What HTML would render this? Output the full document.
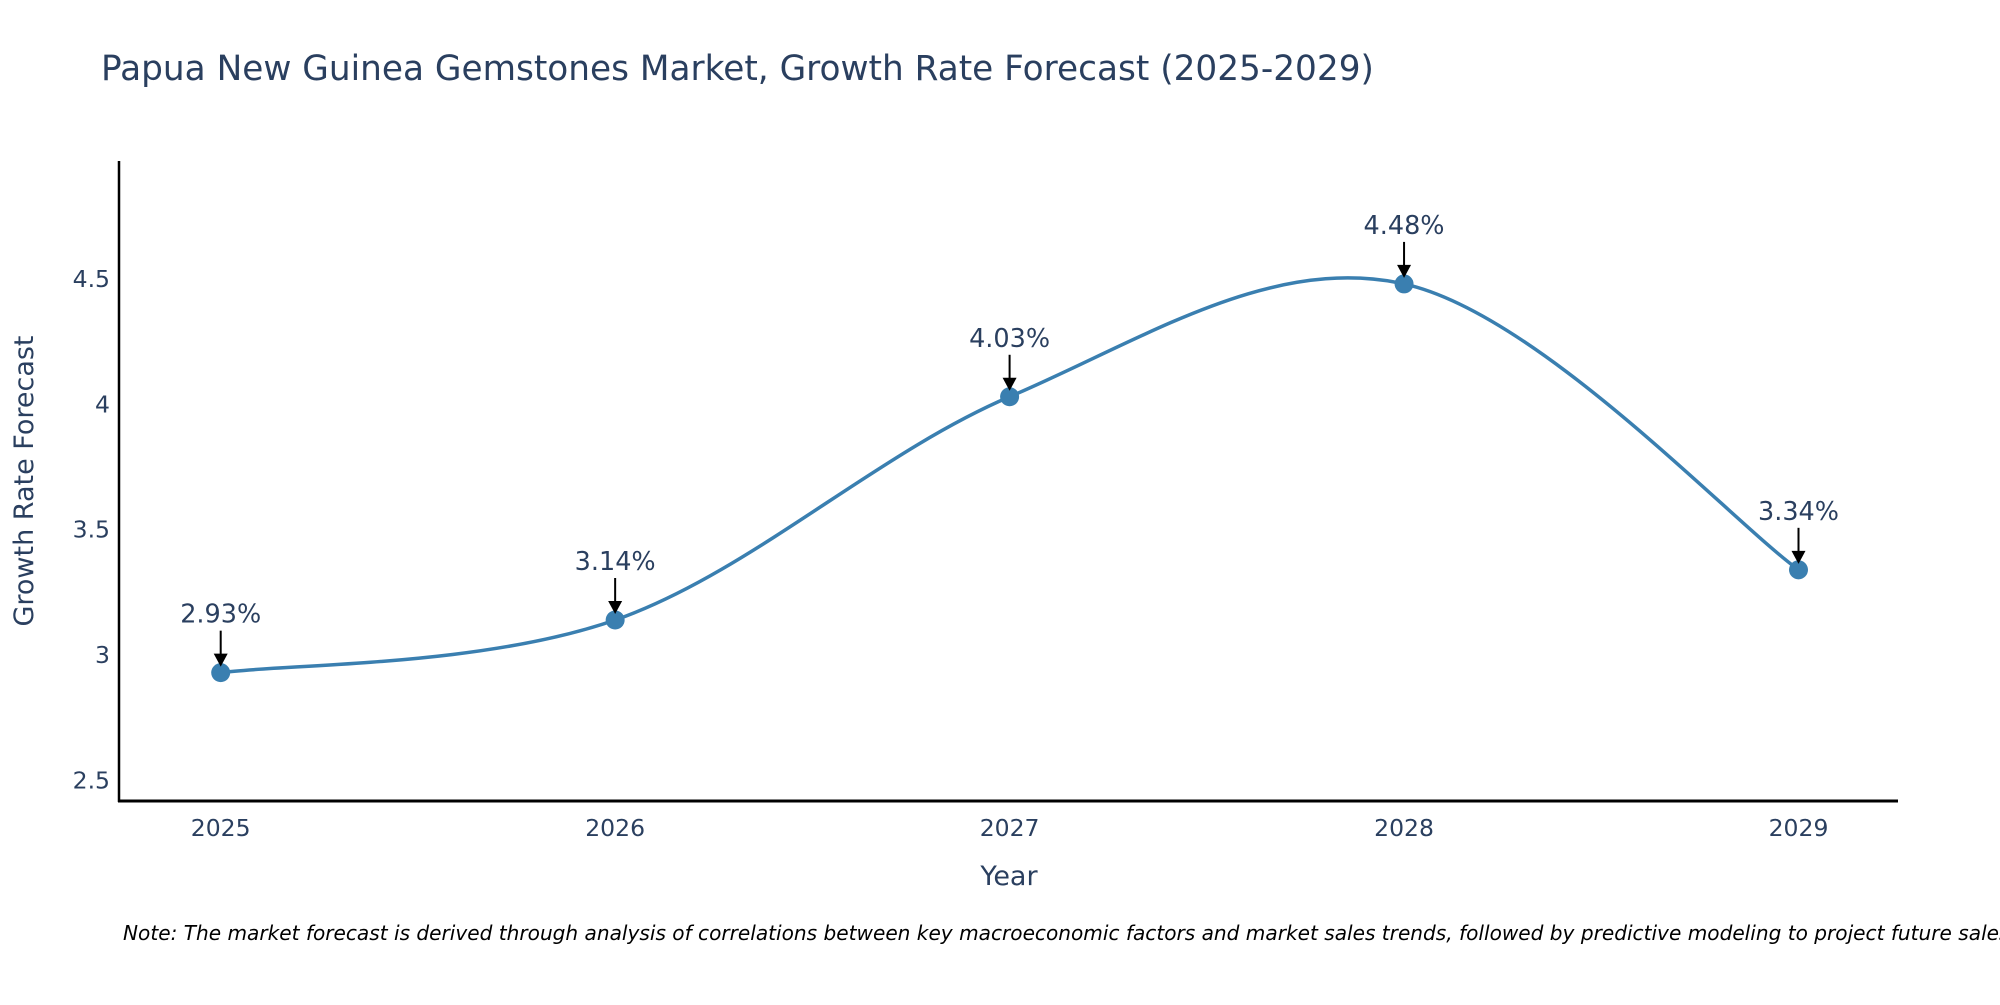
<!DOCTYPE html>
<html><head><meta charset="utf-8"><style>
body{margin:0;background:#fff;}
svg text{font-family:"DejaVu Sans","Liberation Sans",sans-serif;}
</style></head><body>
<svg width="2000" height="1000" viewBox="0 0 2000 1000">
<text x="101" y="80" font-size="34.3" fill="#2a3f5f">Papua New Guinea Gemstones Market, Growth Rate Forecast (2025-2029)</text>
<g id="yticks"></g>
<g id="xticks"></g>
<line x1="119" y1="161" x2="119" y2="802" stroke="#000" stroke-width="2.5"/>
<line x1="118" y1="801" x2="1898" y2="801" stroke="#000" stroke-width="3"/>
<path id="line" fill="none" stroke="#3a7fb0" stroke-width="3.5"/>
<g id="marks"></g>
<text transform="translate(33,481) rotate(-90)" text-anchor="middle" font-size="27" fill="#2a3f5f">Growth Rate Forecast</text>
<text x="1009" y="885" text-anchor="middle" font-size="27" fill="#2a3f5f">Year</text>
<text x="123" y="940" font-size="20.1" font-style="italic" fill="#000">Note: The market forecast is derived through analysis of correlations between key macroeconomic factors and market sales trends, followed by predictive modeling to project future sales</text>
</svg>
<script>
const years=["2025","2026","2027","2028","2029"];
const values=[2.93,3.14,4.03,4.48,3.34];
const labels=["2.93%","3.14%","4.03%","4.48%","3.34%"];
const yTicks=[2.5,3,3.5,4,4.5];
const yTickLabels=["2.5","3","3.5","4","4.5"];
const NS="http://www.w3.org/2000/svg";
function xs(i){return 220.7+i*(1798.5-220.7)/(years.length-1);}
function ys(v){return 404.3-(v-4)*250.8;}
function mk(t,a,p){const e=document.createElementNS(NS,t);for(const k in a)e.setAttribute(k,a[k]);p.appendChild(e);return e;}
const yt=document.getElementById('yticks'),xt=document.getElementById('xticks'),mg=document.getElementById('marks');
yTicks.forEach((v,i)=>{const t=mk('text',{x:110,y:ys(v)+8,'text-anchor':'end','font-size':23.5,fill:'#2a3f5f'},yt);t.textContent=yTickLabels[i];

});
years.forEach((y,i)=>{const t=mk('text',{x:xs(i),y:836,'text-anchor':'middle','font-size':23.5,fill:'#2a3f5f'},xt);t.textContent=y;

});
const P=values.map((v,i)=>[xs(i),ys(v)]);
let d=`M${P[0][0]},${P[0][1]}`;const k=0.17;
for(let i=0;i<P.length-1;i++){const p0=P[Math.max(i-1,0)],p1=P[i],p2=P[i+1],p3=P[Math.min(i+2,P.length-1)];
d+=` C${p1[0]+(p2[0]-p0[0])*k},${p1[1]+(p2[1]-p0[1])*k} ${p2[0]-(p3[0]-p1[0])*k},${p2[1]-(p3[1]-p1[1])*k} ${p2[0]},${p2[1]}`;}
document.getElementById('line').setAttribute('d',d);
P.forEach((p,i)=>{
const c=mk('circle',{cx:p[0],cy:p[1],r:9.5,fill:'#3a7fb0'},mg);


const l=mk('line',{x1:p[0],y1:p[1]-42,x2:p[0],y2:p[1]-18,stroke:'#000','stroke-width':2},mg);


const h=mk('polygon',{points:`${p[0]-7},${p[1]-19} ${p[0]+7},${p[1]-19} ${p[0]},${p[1]-6}`,fill:'#000'},mg);


const t=mk('text',{x:p[0],y:p[1]-50,'text-anchor':'middle','font-size':25.5,fill:'#2a3f5f'},mg);t.textContent=labels[i];


});
</script>
</body></html>
